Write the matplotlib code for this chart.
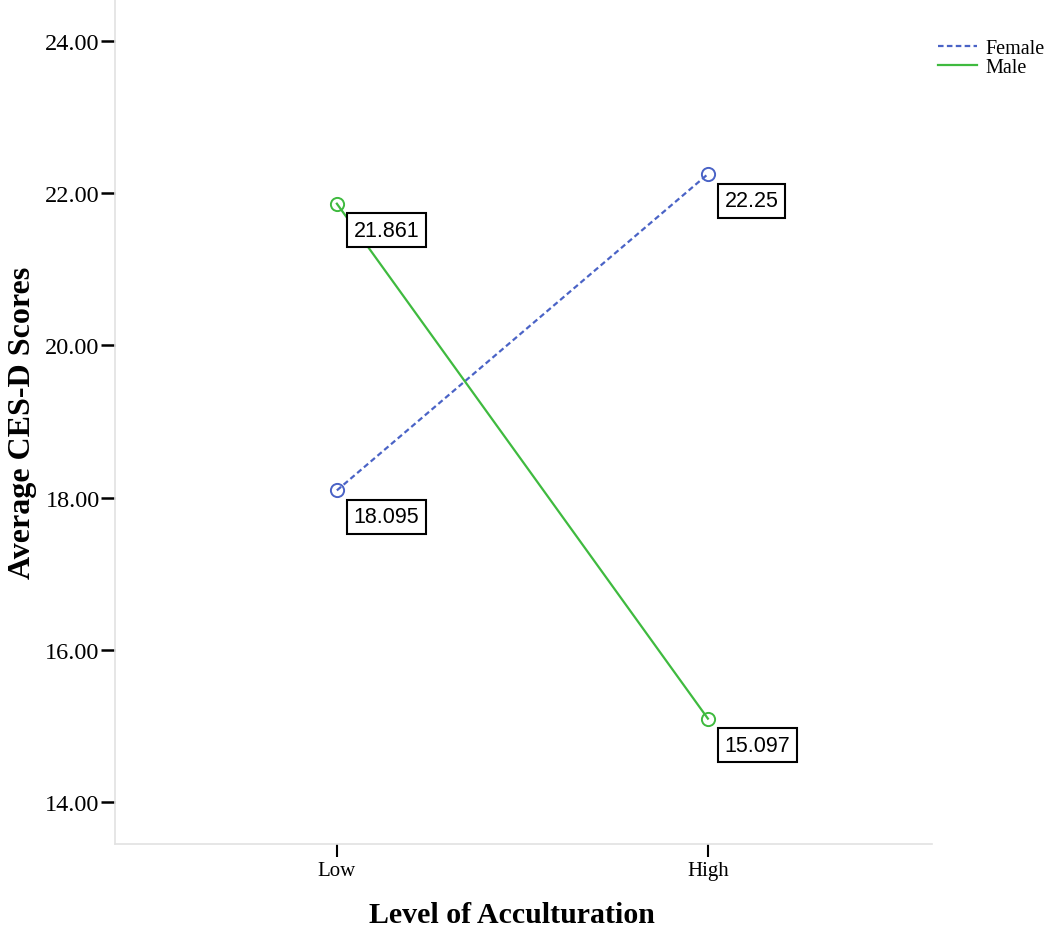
import matplotlib
matplotlib.use('Agg')
import matplotlib.pyplot as plt
from matplotlib.lines import Line2D

# data
levels = ['Low', 'High']
female = [18.095, 22.25]
male = [21.861, 15.097]
female_labels = ['18.095', '22.25']
male_labels = ['21.861', '15.097']
yticks = [14, 16, 18, 20, 22, 24]

blue = '#4a63c6'
green = '#3fba3f'

plt.rcParams['font.family'] = 'Liberation Serif'

figure = plt.figure(figsize=(10.5, 9.29), dpi=100)
axes = figure.add_axes([115/1050, 1 - 845/929, (932 - 115)/1050, 845/929])

xpos = list(range(len(levels)))
axes.plot(xpos, female, color=blue, linestyle=(0, (2.5, 1.5)), linewidth=1.6,
          marker='o', markersize=9.5, markerfacecolor='none', markeredgewidth=1.4)
axes.plot(xpos, male, color=green, linestyle='-', linewidth=1.6,
          marker='o', markersize=9.5, markerfacecolor='none', markeredgewidth=1.4)

# value boxes
for x, y, txt in list(zip(xpos, female, female_labels)) + list(zip(xpos, male, male_labels)):
    axes.annotate(txt, (x, y), xytext=(12, -11.5), textcoords='offset points',
                  ha='left', va='top', fontsize=15.5, family='Liberation Sans',
                  bbox=dict(boxstyle='square,pad=0.3', facecolor='white',
                            edgecolor='black', linewidth=1.5))

axes.set_xlim(-0.598, 1.604)
axes.set_ylim(13.45, 24.55)
axes.set_xticks(xpos)
axes.set_xticklabels(levels, fontsize=15)
axes.set_yticks(yticks)
axes.set_yticklabels(['%.2f' % t for t in yticks], fontsize=17.5)

for side in ['top', 'right']:
    axes.spines[side].set_visible(False)
for side in ['left', 'bottom']:
    axes.spines[side].set_color('#e2e2e2')
    axes.spines[side].set_linewidth(1.2)

axes.tick_params(axis='y', length=10, width=1.8, color='black', pad=1)
axes.tick_params(axis='x', length=9, width=1.5, color='black', pad=3)

axes.set_xlabel('Level of Acculturation', fontsize=21.5, fontweight='bold')
axes.xaxis.set_label_coords((512 - 115) / (932 - 115), -57 / 845)
axes.set_ylabel('Average CES-D Scores', fontsize=23, fontweight='bold', labelpad=6)

handles = [Line2D([], [], color=blue, linestyle=(0, (2.5, 1.5)), linewidth=1.6),
           Line2D([], [], color=green, linestyle='-', linewidth=1.6)]
figure.legend(handles, ['Female', 'Male'], loc='upper left',
              bbox_to_anchor=(938/1050, 1 - 40/929), frameon=False,
              fontsize=14.5, handlelength=1.95, handletextpad=0.4, labelspacing=0.0,
              borderaxespad=0, borderpad=0)

figure.savefig('out.png', dpi=100)
